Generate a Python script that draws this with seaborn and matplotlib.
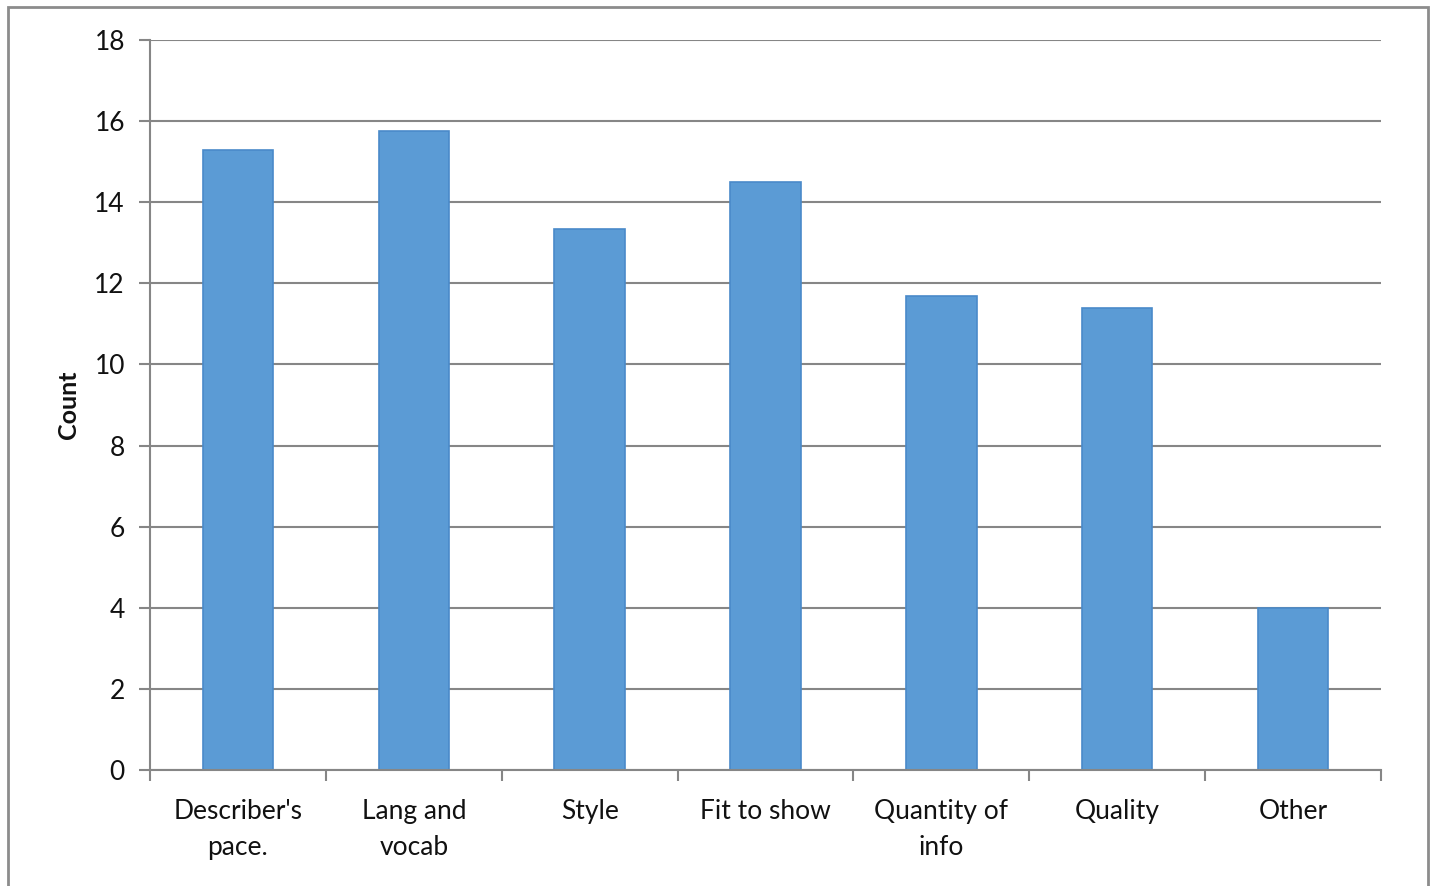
import matplotlib
matplotlib.use("Agg")
import matplotlib.pyplot as plt
from matplotlib.patches import Rectangle
import numpy as np
import pandas as pd
import seaborn as sns

# Data
categories = ["Describer's\npace.", "Lang and\nvocab", "Style", "Fit to show",
              "Quantity of\ninfo", "Quality", "Other"]
counts = [15.3, 15.75, 13.35, 14.5, 11.7, 11.4, 4.0]
y_ticks = [0, 2, 4, 6, 8, 10, 12, 14, 16, 18]

BAR_COLOR = "#5B9BD5"
GRID_COLOR = "#868686"

sns.set_style("white")
plt.rcParams["font.family"] = ["Lato", "DejaVu Sans"]


def count_chart():
    df = pd.DataFrame({"category": categories, "count": counts})

    fig = plt.figure(figsize=(14.3, 8.86), dpi=100)
    ax = fig.add_axes([150 / 1430, 1 - 770 / 886, (1381 - 150) / 1430, (770 - 40) / 886])

    sns.barplot(data=df, x="category", y="count", ax=ax, color=BAR_COLOR,
                width=0.4, saturation=1, edgecolor="#4a8ac9", linewidth=1.2,
                zorder=3)

    # Axes and grid
    ax.set_ylim(0, 18)
    ax.set_xlim(-0.5, len(categories) - 0.5)
    ax.set_yticks(y_ticks)
    ax.yaxis.grid(True, color=GRID_COLOR, linewidth=1.5, zorder=0)
    ax.set_axisbelow(True)
    for side in ["top", "right"]:
        ax.spines[side].set_visible(False)
    for side in ["left", "bottom"]:
        ax.spines[side].set_color(GRID_COLOR)
        ax.spines[side].set_linewidth(1.5)
        ax.spines[side].set_zorder(4)

    # Category ticks sit between the bars, labels at the bar centres
    ax.set_xticks(np.arange(-0.5, len(categories) + 0.5, 1), minor=True)
    ax.tick_params(axis="x", which="minor", bottom=True, direction="out",
                   length=8, width=1.5, color=GRID_COLOR)
    ax.tick_params(axis="x", which="major", bottom=True, length=0, pad=21,
                   labelsize=19, labelcolor="#111111")
    ax.tick_params(axis="y", left=True, direction="out", length=8, width=1.5,
                   color=GRID_COLOR, pad=10, labelsize=19, labelcolor="#111111")
    for lbl in ax.get_xticklabels():
        lbl.set_linespacing(1.55)

    ax.set_xlabel("")
    ax.set_ylabel("Count", fontsize=18, fontweight="bold", labelpad=10,
                  color="#111111")

    # Chart border like the original
    fig.patches.append(Rectangle((8 / 1430, -0.02), 1420 / 1430, 1 - 7 / 886 + 0.02,
                                 transform=fig.transFigure, fill=False,
                                 edgecolor="#8c8c8c", linewidth=2))

    fig.savefig("out.png", dpi=100)


if __name__ == "__main__":
    count_chart()
